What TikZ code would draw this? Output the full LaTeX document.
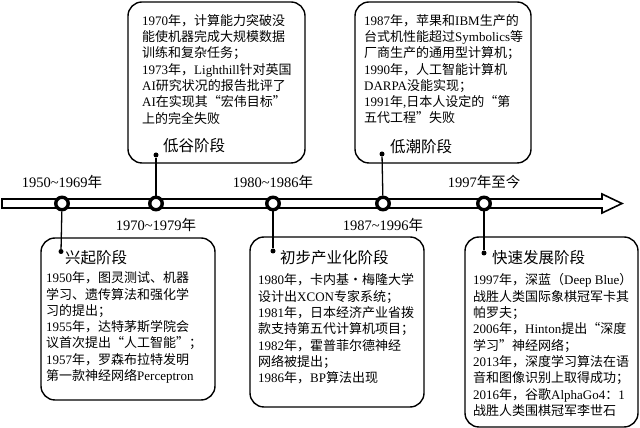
\documentclass[tikz,border=0pt]{standalone}
\usepackage{fontspec}
\setmainfont{Noto Sans CJK SC}
\newfontfamily\latinfont{Liberation Serif}
\newcommand{\lat}[1]{{\latinfont #1}}
\usetikzlibrary{positioning}

\begin{document}
\begin{tikzpicture}[x=1pt, y=1pt,
    stagebox/.style={draw, rounded corners=14pt, line width=1.4pt, inner sep=0pt},
    yearnode/.style={draw, circle, line width=3.4pt, fill=white, minimum size=12.5pt, inner sep=0pt},
    stagedot/.style={fill, circle, minimum size=5pt, inner sep=0pt},
    connector/.style={line width=1.3pt},
    yeartext/.style={font=\fontsize{14.5}{16}\selectfont, inner sep=0pt},
    stagetitle/.style={font=\fontsize{15.5}{18}\selectfont, anchor=west, inner sep=0pt},
    eventtext/.style={font=\fontsize{13}{16.3}\selectfont, align=left, anchor=north west, inner sep=0pt}]
  \useasboundingbox (0,0) rectangle (640,428);
  % Stage boxes
  \node[stagebox, minimum width=174pt, minimum height=162pt] (b1) at (128,109) {};
  \node[stagebox, minimum width=177pt, minimum height=161pt] (b2) at (216.5,345.5) {};
  \node[stagebox, minimum width=174pt, minimum height=170pt] (b3) at (337,106) {};
  \node[stagebox, minimum width=176pt, minimum height=161pt] (b4) at (443,345.5) {};
  \node[stagebox, minimum width=173pt, minimum height=190pt] (b5) at (551.5,96) {};
  % Time axis
  \draw[line width=1.6pt, fill=white] (2,220) -- (602,220) -- (602,215) -- (622,224.5)
    -- (602,234) -- (602,229) -- (2,229) -- cycle;
  \foreach \x/\i in {62/1,156/2,273/3,383/4,484/5}
    \node[yearnode] (c\i) at (\x,224.5) {};
  % Year labels
  \node[yeartext, above=7pt of c1] (y1) {\lat{1950\textasciitilde1969}年};
  \node[yeartext, below=7pt of c2] (y2) {\lat{1970\textasciitilde1979}年};
  \node[yeartext, above=7pt of c3] (y3) {\lat{1980\textasciitilde1986}年};
  \node[yeartext, below=7pt of c4] (y4) {\lat{1987\textasciitilde1996}年};
  \node[yeartext, above=7pt of c5] (y5) {\lat{1997}年至今};
  % Dots and connectors
  \node[stagedot] (d1) at (61,176.5) {};
  \node[stagedot] (d2) at (156,273) {};
  \node[stagedot] (d3) at (273,177) {};
  \node[stagedot] (d4) at (382,274) {};
  \node[stagedot] (d5) at (484,175) {};
  \foreach \i in {1,...,5}
    \draw[connector] (c\i) -- (d\i);
  % Stage titles
  \node[stagetitle] (t1) at (65,170) {兴起阶段};
  \node[stagetitle] (t2) at (163,282) {低谷阶段};
  \node[stagetitle] (t3) at (280,170) {初步产业化阶段};
  \node[stagetitle] (t4) at (390,281) {低潮阶段};
  \node[stagetitle] (t5) at (492,170) {快速发展阶段};
  % Events
  \node[eventtext] (e1) at (46,156.4) {\lat{1950}年，图灵测试、机器\\
    学习、遗传算法和强化学\\
    习的提出；\\
    \lat{1955}年，达特茅斯学院会\\
    议首次提出“人工智能”；\\
    \lat{1957}年，罗森布拉特发明\\
    第一款神经网络\lat{Perceptron}};
  \node[eventtext] (e2) at (142,414) {\lat{1970}年，计算能力突破没\\
    能使机器完成大规模数据\\
    训练和复杂任务；\\
    \lat{1973}年，\lat{Lighthill}针对英国\\
    \lat{AI}研究状况的报告批评了\\
    \lat{AI}在实现其“宏伟目标”\\
    上的完全失败};
  \node[eventtext] (e3) at (258,154.4) {\lat{1980}年，卡内基・梅隆大学\\
    设计出\lat{XCON}专家系统；\\
    \lat{1981}年，日本经济产业省拨\\
    款支持第五代计算机项目；\\
    \lat{1982}年，霍普菲尔德神经\\
    网络被提出；\\
    \lat{1986}年，\lat{BP}算法出现};
  \node[eventtext] (e4) at (364,414) {\lat{1987}年，苹果和\lat{IBM}生产的\\
    台式机性能超过\lat{Symbolics}等\\
    厂商生产的通用型计算机；\\
    \lat{1990}年，人工智能计算机\\
    \lat{DARPA}没能实现；\\
    \lat{1991}年\lat{,}日本人设定的“第\\
    五代工程”失败};
  \node[eventtext] (e5) at (473,154.4) {\lat{1997}年，深蓝（\lat{Deep Blue}）\\
    战胜人类国际象棋冠军卡其\\
    帕罗夫；\\
    \lat{2006}年，\lat{Hinton}提出“深度\\
    学习”神经网络；\\
    \lat{2013}年，深度学习算法在语\\
    音和图像识别上取得成功；\\
    \lat{2016}年，谷歌\lat{AlphaGo4}：\lat{1}\\
    战胜人类围棋冠军李世石};
\end{tikzpicture}
\end{document}
